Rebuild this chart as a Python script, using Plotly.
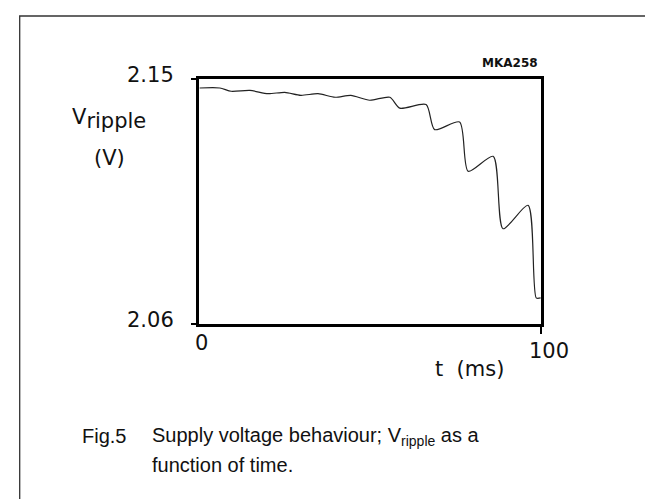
import plotly.graph_objects as go

# ---- data ----
t_ms = [0.2, 6.1, 9.4, 14.9, 20.2, 25.1, 29.8, 34.8, 39.8, 44.4, 49.9, 55.8,
        58.7, 66.4, 68.9, 76.2, 78.7, 86.0, 88.9, 96.2, 98.6, 99.9]
v_ripple = [2.1467, 2.1467, 2.1455, 2.1458, 2.1446, 2.1451, 2.1440, 2.1446,
            2.1433, 2.1440, 2.1422, 2.1433, 2.1393, 2.1406, 2.1314, 2.1342,
            2.1161, 2.1216, 2.0950, 2.1036, 2.0696, 2.0696]
x_range = [0, 100]
y_range = [2.06, 2.15]
x_tick_labels = ["0", "100"]
y_tick_labels = ["2.06", "2.15"]

W, H = 653, 499
L, R, T, B = 191, 533, 71, 316  # plot area in pixels


def px(x):
    return (x - L) / (R - L)


def py(y):
    return (B - y) / (B - T)


TICK_FONT = dict(family="DejaVu Sans", size=21, color="#111")
CAP_FONT = dict(family="Liberation Sans", size=20, color="#111")

fig = go.Figure()
fig.add_trace(go.Scatter(
    x=t_ms, y=v_ripple, mode="lines",
    line=dict(color="#222", width=1.2, shape="spline", smoothing=0.7),
    hoverinfo="skip", showlegend=False,
))

fig.update_layout(
    width=W, height=H,
    margin=dict(l=L, r=W - R, t=T, b=H - B, pad=0),
    paper_bgcolor="white", plot_bgcolor="white",
    showlegend=False,
    xaxis=dict(range=x_range, showgrid=False, zeroline=False,
               showline=True, mirror=True, linecolor="black", linewidth=2.5,
               ticks="outside", tickvals=[x_range[1]], ticklen=7, tickwidth=2,
               tickcolor="black", showticklabels=False, fixedrange=True),
    yaxis=dict(range=y_range, showgrid=False, zeroline=False,
               showline=True, mirror=True, linecolor="black", linewidth=2.5,
               ticks="outside", tickvals=y_range, ticklen=5, tickwidth=1.5,
               tickcolor="black", showticklabels=False, fixedrange=True),
)

# outer frame
fig.add_shape(type="rect", xref="paper", yref="paper",
              x0=px(11.7), x1=px(652), y0=py(8), y1=py(510),
              line=dict(color="#333", width=1.3), fillcolor="rgba(0,0,0,0)",
              layer="below")

ann = []
# y tick labels
ann.append(dict(x=px(168), y=py(67), text=y_tick_labels[1], xanchor="right", yanchor="middle", font=TICK_FONT))
ann.append(dict(x=px(168), y=py(312), text=y_tick_labels[0], xanchor="right", yanchor="middle", font=TICK_FONT))
# x tick labels
ann.append(dict(x=px(193), y=py(335), text=x_tick_labels[0], xanchor="center", yanchor="middle", font=TICK_FONT))
ann.append(dict(x=px(541), y=py(343), text=x_tick_labels[1], xanchor="center", yanchor="middle", font=TICK_FONT))
# axis titles
ann.append(dict(x=px(425), y=py(361), text="t  (ms)", xanchor="left", yanchor="middle", font=TICK_FONT))
ann.append(dict(x=px(62), y=py(111), text="V<sub><span style='font-size:21px'>ripple</span></sub>",
                xanchor="left", yanchor="middle", font=TICK_FONT))
ann.append(dict(x=px(101), y=py(150), text="(V)", xanchor="center", yanchor="middle", font=TICK_FONT))
# code
ann.append(dict(x=px(532), y=py(55), text="<b>MKA258</b>", xanchor="right", yanchor="middle",
                font=dict(family="DejaVu Sans", size=12, color="#111")))
# caption
ann.append(dict(x=px(72), y=py(428), text="Fig.5", xanchor="left", yanchor="middle", font=CAP_FONT))
ann.append(dict(x=px(142), y=py(428), text="Supply voltage behaviour; V<sub>ripple</sub> as a",
                xanchor="left", yanchor="middle", font=CAP_FONT))
ann.append(dict(x=px(142), y=py(457), text="function of time.", xanchor="left", yanchor="middle", font=CAP_FONT))

for a in ann:
    a.update(xref="paper", yref="paper", showarrow=False)
    fig.add_annotation(**a)

fig.write_html("out.html", config={"displayModeBar": False})
